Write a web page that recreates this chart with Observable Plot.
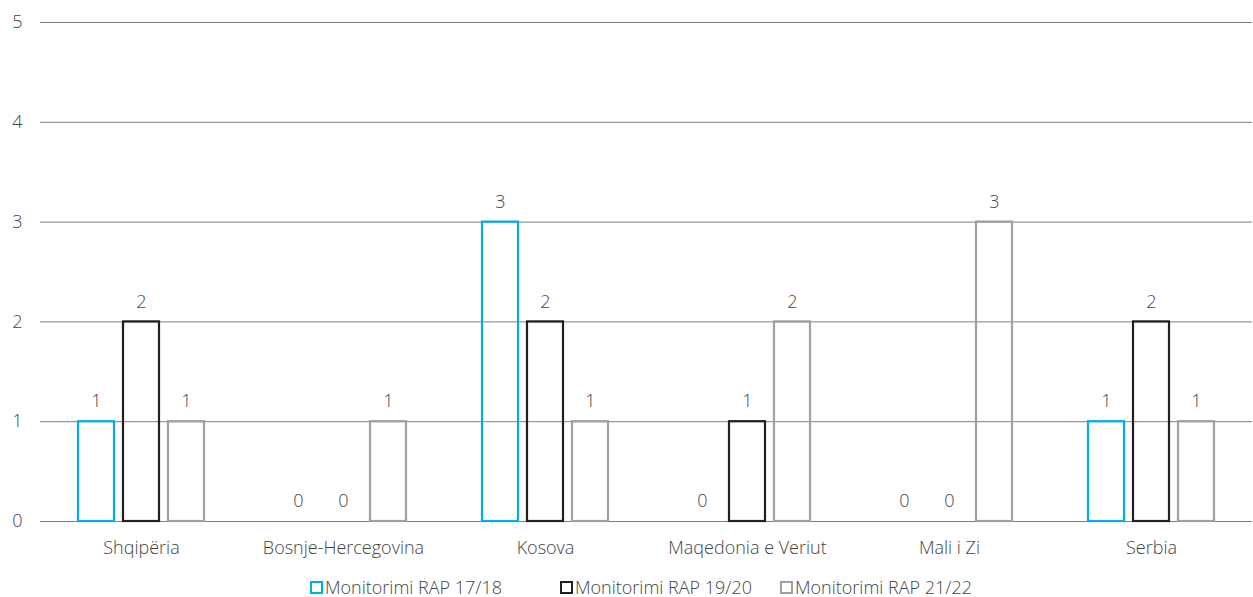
<!DOCTYPE html>
<html>
<head>
<meta charset="utf-8">
<script src="https://cdn.jsdelivr.net/npm/d3@7"></script>
<script src="https://cdn.jsdelivr.net/npm/@observablehq/plot@0.6"></script>
<style>
  body { margin: 0; background: #fff; font-family: "Open Sans", sans-serif; }
  #legend { position: relative; width: 1253px; height: 32px; color: #444; font-size: 18px; font-weight: 300; }
  .item { position: absolute; top: 10px; display: flex; align-items: center; white-space: nowrap; }
  .sw { width: 9px; height: 9px; border: 2px solid; margin-right: 2px; }
  svg text { font-weight: 300; }
</style>
</head>
<body>
<div id="chart"></div>
<div id="legend"></div>
<script>
const countries = ["Shqipëria", "Bosnje-Hercegovina", "Kosova", "Maqedonia e Veriut", "Mali i Zi", "Serbia"];
const series = ["Monitorimi RAP 17/18", "Monitorimi RAP 19/20", "Monitorimi RAP 21/22"];
const colors = ["#00aeef", "#231f20", "#a0a0a0"];
const rap1718 = [1, 0, 3, 0, 0, 1];
const rap1920 = [2, 0, 2, 1, 0, 2];
const rap2122 = [1, 1, 1, 2, 3, 1];
const yTicks = [0, 1, 2, 3, 4, 5];
const legendLeft = [310, 560, 780];

const values = [rap1718, rap1920, rap2122];
const data = [];
countries.forEach((c, i) => series.forEach((s, j) => data.push({country: c, series: s, value: values[j][i]})));

const chart = Plot.plot({
  width: 1253,
  height: 565,
  marginLeft: 38,
  marginRight: 0,
  marginTop: 22,
  marginBottom: 44,
  style: {fontFamily: "Open Sans, sans-serif", fontSize: "18px", color: "#444", background: "#fff"},
  fx: {domain: countries, padding: 0, label: null, axis: "bottom", tickSize: 0, tickPadding: 20},
  x: {domain: series, paddingInner: 0.198, paddingOuter: 0.824, axis: null},
  y: {domain: [0, 5], ticks: yTicks, tickFormat: d3.format("d"), label: null, tickSize: 0, tickPadding: 18},
  color: {domain: series, range: colors},
  marks: [
    Plot.ruleY(yTicks, {stroke: "#7f7f7f", strokeWidth: 1}),
    Plot.barY(data.filter(d => d.value > 0), {fx: "country", x: "series", y: "value", stroke: "series", fill: "none", strokeWidth: 2.2}),
    Plot.text(data, {fx: "country", x: "series", y: "value", text: d => String(d.value), dy: -20, fill: "#444", fontSize: 18})
  ]
});
document.getElementById("chart").appendChild(chart);

const legend = document.getElementById("legend");
series.forEach((s, i) => {
  const item = document.createElement("div");
  item.className = "item";
  item.style.left = legendLeft[i] + "px";
  const sw = document.createElement("span");
  sw.className = "sw";
  sw.style.borderColor = colors[i];
  item.appendChild(sw);
  const t = document.createElement("span");
  t.textContent = s;
  item.appendChild(t);
  legend.appendChild(item);
});
</script>
</body>
</html>
